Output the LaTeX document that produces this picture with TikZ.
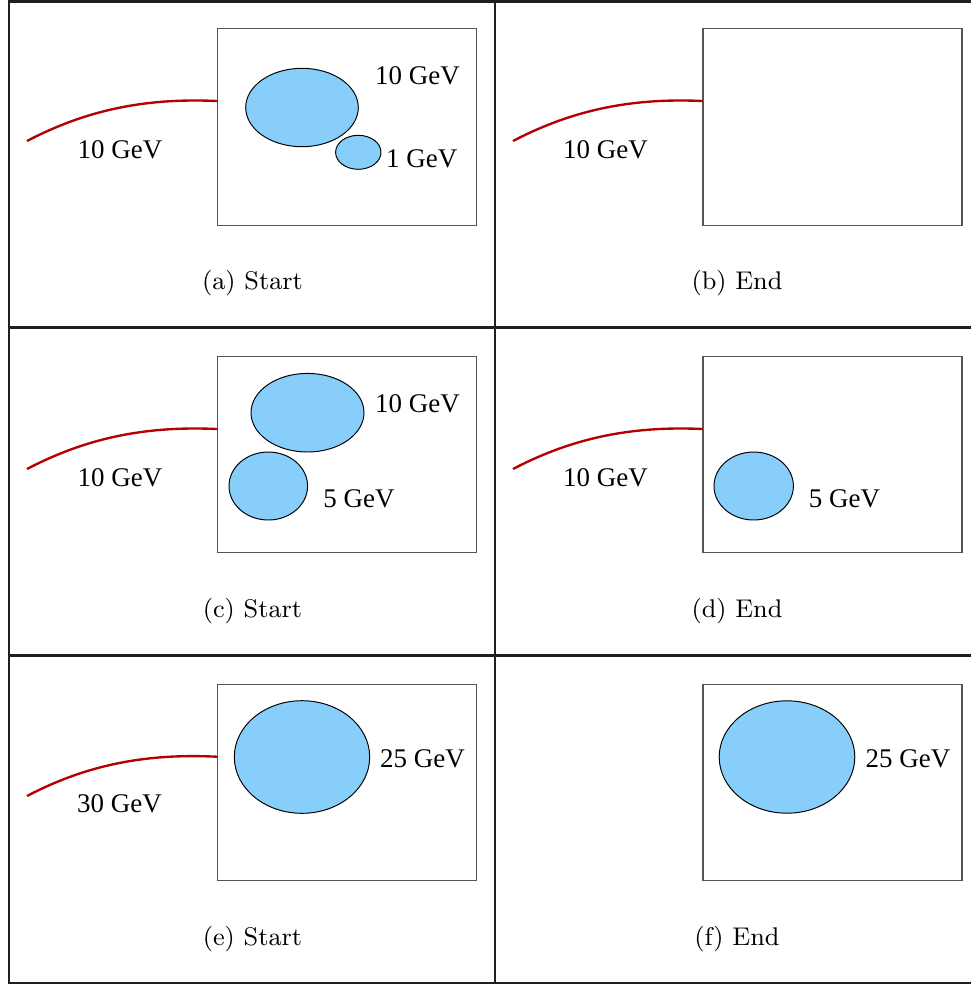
\documentclass[tikz,border=0pt]{standalone}
\usepackage{fontspec}
\newfontfamily\labfont{Liberation Serif}
\usetikzlibrary{shapes.geometric}
\definecolor{blobfill}{RGB}{135,206,250}
\definecolor{trackred}{RGB}{180,0,0}
\definecolor{boxgray}{RGB}{85,85,85}
\newcommand\pxu{0.36pt}
\tikzset{
  frame/.style={draw=black!88, line width=0.75pt},
  detbox/.style={draw=boxgray, line width=0.45pt, rectangle, inner sep=0pt,
    minimum width=259*\pxu, minimum height=196.5*\pxu},
  blob/.style={draw=black, fill=blobfill, line width=0.35pt, ellipse, inner sep=0pt},
  track/.style={draw=trackred, line width=0.85pt},
  energy/.style={font=\labfont\fontsize{9.7}{11}\selectfont, inner sep=0pt},
  caption/.style={font=\fontsize{9.2}{11}\selectfont, inner sep=0pt}
}
\begin{document}
\begin{tikzpicture}[x=0.36pt, y=-0.36pt]
\useasboundingbox (0,0) rectangle (971,984);
% frame
\draw[frame] (9,1.5) rectangle (972.5,983);
\draw[frame] (495,1.5) -- (495,983);
\draw[frame] (9,327.5) -- (972.5,327.5);
\draw[frame] (9,655.5) -- (972.5,655.5);

% ---------- (a) ----------
\node[detbox] (boxA) at (347,127) {};
\node[blob, minimum width=112.6*\pxu, minimum height=78.4*\pxu] (a1) at (302,107.5) {};
\node[blob, minimum width=45.4*\pxu, minimum height=34*\pxu] (a2) at (358.3,152.3) {};
\node[energy] (la1) at (417.5,76) {10 GeV};
\node[energy] (la2) at (421.7,159) {1 GeV};
\coordinate (sA) at (27,141);
\coordinate (eA) at (boxA.west |- 0,101);
\draw[track] (sA) .. controls (90,108) and (150,98) .. (eA);
\node[energy] (ta) at (120,150) {10 GeV};
\node[caption] (ca) at (252.5,283.5) {(a) Start};

% ---------- (b) ----------
\node[detbox] (boxB) at (832.5,127) {};
\coordinate (sB) at (513,141);
\coordinate (eB) at (boxB.west |- 0,101);
\draw[track] (sB) .. controls (576,108) and (636,98) .. (eB);
\node[energy] (tb) at (605.5,150) {10 GeV};
\node[caption] (cb) at (737,283.5) {(b) End};

% ---------- (c) ----------
\node[detbox] (boxC) at (347,454.5) {};
\node[blob, minimum width=113*\pxu, minimum height=78.6*\pxu] (c1) at (307.5,412.7) {};
\node[blob, minimum width=78.6*\pxu, minimum height=68*\pxu] (c2) at (268.3,486) {};
\node[energy] (lc1) at (417.5,404) {10 GeV};
\node[energy] (lc2) at (359,499) {5 GeV};
\coordinate (sC) at (27,469);
\coordinate (eC) at (boxC.west |- 0,429);
\draw[track] (sC) .. controls (90,436) and (150,426) .. (eC);
\node[energy] (tc) at (120,478) {10 GeV};
\node[caption] (cc) at (252.5,611) {(c) Start};

% ---------- (d) ----------
\node[detbox] (boxD) at (832.5,454.5) {};
\node[blob, minimum width=79.4*\pxu, minimum height=68*\pxu] (d1) at (753.7,486) {};
\node[energy] (ld1) at (844.5,499) {5 GeV};
\coordinate (sD) at (513,469);
\coordinate (eD) at (boxD.west |- 0,429);
\draw[track] (sD) .. controls (576,436) and (636,426) .. (eD);
\node[energy] (td) at (605.5,478) {10 GeV};
\node[caption] (cd) at (737,611) {(d) End};

% ---------- (e) ----------
\node[detbox] (boxE) at (347,782.5) {};
\node[blob, minimum width=135.4*\pxu, minimum height=112.6*\pxu] (e1) at (302,757) {};
\node[energy] (le1) at (422.5,759) {25 GeV};
\coordinate (sE) at (27,796);
\coordinate (eE) at (boxE.west |- 0,756.7);
\draw[track] (sE) .. controls (90,763) and (150,753.5) .. (eE);
\node[energy] (te) at (119.5,804) {30 GeV};
\node[caption] (ce) at (252.5,939) {(e) Start};

% ---------- (f) ----------
\node[detbox] (boxF) at (832.5,782.5) {};
\node[blob, minimum width=135.6*\pxu, minimum height=112.4*\pxu] (f1) at (787,757) {};
\node[energy] (lf1) at (908,759) {25 GeV};
\node[caption] (cf) at (737,939) {(f) End};
\end{tikzpicture}
\end{document}
